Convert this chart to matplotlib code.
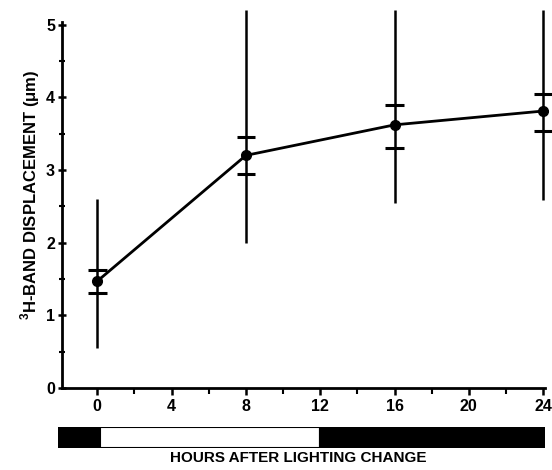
import matplotlib
matplotlib.use("Agg")
import matplotlib.pyplot as plt
from matplotlib.ticker import MultipleLocator

hours = [0, 8, 16, 24]
displacement = [1.47, 3.2, 3.62, 3.81]
sem_low = [1.31, 2.95, 3.30, 3.54]
sem_high = [1.63, 3.45, 3.89, 4.04]
sd_low = [0.55, 1.99, 2.55, 2.58]
sd_high = [2.6, 5.2, 5.2, 5.2]

x_ticks = [0, 4, 8, 12, 16, 20, 24]
y_ticks = [0, 1, 2, 3, 4, 5]

phase_start = [-2.1, 0.15, 12.0]
phase_end = [0.15, 12.0, 24.1]
phase_color = ["black", "white", "black"]

plt.rcParams['font.family'] = ['Liberation Sans', 'DejaVu Sans']
plt.rcParams['mathtext.fontset'] = 'custom'
plt.rcParams['mathtext.rm'] = 'Liberation Sans:bold'
plt.rcParams['mathtext.bf'] = 'Liberation Sans:bold'

W, H = 552, 470
fig = plt.figure(figsize=(W / 100, H / 100), dpi=100)

ax_l, ax_r = 62, 545
ax_top, ax_bot = 10, 388
ax = fig.add_axes([ax_l / W, 1 - ax_bot / H, (ax_r - ax_l) / W, (ax_bot - ax_top) / H])
ax.set_xlim(-1.9, 24.1)
ax.set_ylim(0, 5.2)

for sp in ["top", "right"]:
    ax.spines[sp].set_visible(False)
for sp in ["left", "bottom"]:
    ax.spines[sp].set_linewidth(2)
ax.spines["left"].set_bounds(0, 5.03)

# SD vertical lines
ax.vlines(hours, sd_low, sd_high, color="black", lw=1.8, zorder=2, clip_on=False)
# SEM caps
ax.hlines(sem_low, [h - 0.5 for h in hours], [h + 0.5 for h in hours], color="black", lw=2.2, zorder=2, clip_on=False)
ax.hlines(sem_high, [h - 0.5 for h in hours], [h + 0.5 for h in hours], color="black", lw=2.2, zorder=2, clip_on=False)
# mean line
ax.plot(hours, displacement, color="black", lw=2, marker="o", markersize=7, zorder=3, clip_on=False)

ax.set_xticks(x_ticks)
ax.set_xticklabels([str(t) for t in x_ticks], fontsize=11.5, fontweight="bold")
ax.xaxis.set_minor_locator(MultipleLocator(2))
ax.set_yticks(y_ticks)
ax.set_yticklabels([str(t) for t in y_ticks], fontsize=11.5, fontweight="bold")
ax.yaxis.set_minor_locator(MultipleLocator(0.5))
ax.tick_params(axis="x", which="major", direction="out", length=5, width=1.8, pad=3)
ax.tick_params(axis="x", which="minor", direction="out", length=4, width=1.5)
ax.tick_params(axis="y", which="major", direction="inout", length=6, width=1.8, pad=2)
ax.tick_params(axis="y", which="minor", direction="inout", length=5, width=1.5)

ax.set_ylabel("$^{\\mathbf{3}}$H-BAND DISPLACEMENT (μm)", fontsize=12, fontweight="bold")
ax.yaxis.set_label_coords(-0.042, 0.51)

# light/dark bar
bl, br = 58, 545
bt, bb = 427, 448
bax = fig.add_axes([bl / W, 1 - bb / H, (br - bl) / W, (bb - bt) / H])
bax.set_xlim(-2.1, 24.1)
bax.set_ylim(0, 1)
bax.barh([0.5] * len(phase_start), [e - s for s, e in zip(phase_start, phase_end)],
         left=phase_start, height=1, color=phase_color, edgecolor="black", linewidth=1.5)
bax.axis("off")

fig.text(298 / W, 1 - 458 / H, "HOURS AFTER LIGHTING CHANGE", ha="center", va="center",
         fontsize=11, fontweight="bold")

fig.savefig("out.png", dpi=100)
